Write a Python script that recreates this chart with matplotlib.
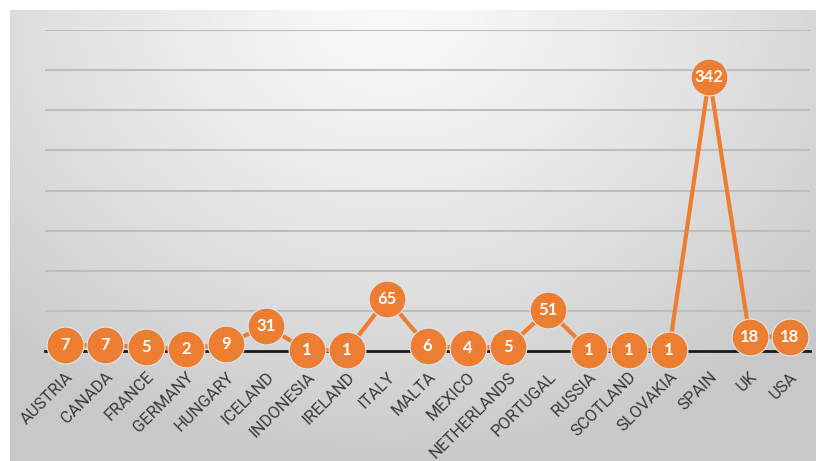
import matplotlib.pyplot as plt
import numpy as np

countries = ["AUSTRIA", "CANADA", "FRANCE", "GERMANY", "HUNGARY", "ICELAND",
             "INDONESIA", "IRELAND", "ITALY", "MALTA", "MEXICO", "NETHERLANDS",
             "PORTUGAL", "RUSSIA", "SCOTLAND", "SLOVAKIA", "SPAIN", "UK", "USA"]
counts = [7, 7, 5, 2, 9, 31, 1, 1, 65, 6, 4, 5, 51, 1, 1, 1, 342, 18, 18]

orange = "#ED7D31"
plt.rcParams["font.family"] = ["Lato", "DejaVu Sans"]

W, H = 816, 461
fig = plt.figure(figsize=(W / 100, H / 100), dpi=100)
fig.patch.set_facecolor("white")

# soft radial gray background panel
bg = fig.add_axes([10 / W, 0, 1 - 10 / W, 1 - 10 / H])
bg.set_zorder(-1)
yy, xx = np.mgrid[0:451, 0:806]
dist = np.sqrt(((xx - 380) / 1.25) ** 2 + (yy * 1.0) ** 2)
shade = 0.975 - 0.19 * np.clip(dist / 460, 0, 1) ** 1.3
bg.imshow(np.dstack([shade] * 3), aspect="auto", extent=(0, 1, 0, 1), origin="upper")
bg.axis("off")

ax = fig.add_axes([45 / W, (H - 351) / H, 765 / W, 321 / H])
ax.patch.set_alpha(0)
x = np.arange(len(countries))
ax.set_xlim(-0.5, len(countries) - 0.5)
ax.set_ylim(0, 400)
ax.set_yticks(np.arange(50, 401, 50))
ax.yaxis.grid(True, color="#bdbdbd", linewidth=1.5)
ax.set_axisbelow(True)
ax.tick_params(axis="y", left=False, labelleft=False)
for s in ["top", "right", "left"]:
    ax.spines[s].set_visible(False)
ax.spines["bottom"].set_color("#1a1a1a")
ax.spines["bottom"].set_linewidth(2)

ax.plot(x, counts, color=orange, linewidth=3, marker="o", markersize=26.5,
        markerfacecolor=orange, markeredgecolor="#dbe6f0", markeredgewidth=0.8,
        zorder=3, clip_on=False)
for xi, v in zip(x, counts):
    ax.text(xi, v, str(v), color="white", fontsize=12, fontweight="bold",
            ha="center", va="center", zorder=4)

ax.set_xticks(x)
ax.set_xticklabels(countries, rotation=45, ha="right", rotation_mode="anchor",
                   fontsize=12, color="#3a3a3a", family=["Roboto", "DejaVu Sans"])
ax.tick_params(axis="x", length=0, pad=13)

fig.savefig("out.png", dpi=100)
